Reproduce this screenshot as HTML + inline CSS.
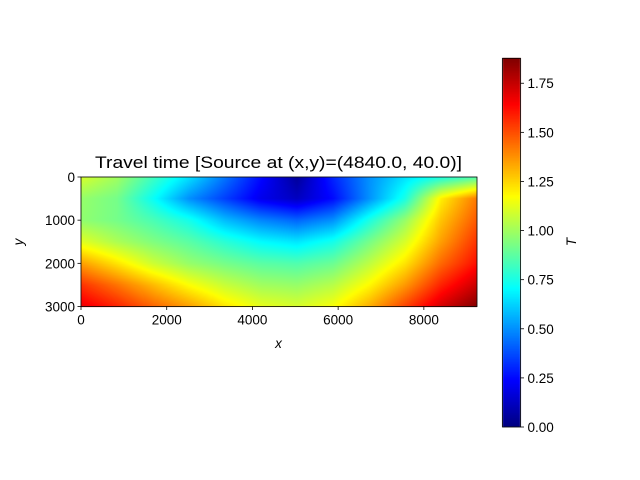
<!DOCTYPE html>
<html><head><meta charset="utf-8"><style>
html,body{margin:0;padding:0;background:#fff;}
#wrap{position:relative;width:640px;height:480px;overflow:hidden;font-family:"Liberation Sans","DejaVu Sans",sans-serif;}
canvas,svg{position:absolute;left:0;top:0;}
</style></head><body>
<div id="wrap">
<canvas id="cv" width="640" height="480"></canvas>
<svg id="sv" width="640" height="480"></svg>
</div>
<script>
// grid x positions (m), y positions (m)
const xCoords = [0,840,1680,2520,3360,4200,5040,5880,6720,7560,8400,9240];
const yCoords = [0,500,1000,1500,2000,2500,3000];
// travel time values, one row per depth
const row0 = [1.10,1.00,0.82,0.65,0.45,0.25,0.05,0.30,0.50,0.65,0.75,0.85];
const row1 = [0.98,0.92,0.72,0.50,0.35,0.20,0.12,0.25,0.50,0.75,1.20,1.42];
const row2 = [0.97,0.92,0.84,0.74,0.58,0.48,0.42,0.50,0.75,0.98,1.28,1.48];
const row3 = [1.12,1.02,0.94,0.87,0.78,0.70,0.66,0.74,0.92,1.10,1.35,1.55];
const row4 = [1.35,1.22,1.08,0.98,0.92,0.87,0.85,0.90,1.05,1.22,1.45,1.62];
const row5 = [1.55,1.43,1.30,1.17,1.07,1.00,0.98,1.04,1.18,1.36,1.58,1.74];
const row6 = [1.68,1.58,1.46,1.35,1.22,1.13,1.10,1.16,1.32,1.52,1.72,1.87];
const xTicks = [0,2000,4000,6000,8000];
const yTicks = [0,1000,2000,3000];
const cbTicks = [0,0.25,0.5,0.75,1.0,1.25,1.5,1.75];
const vmin = 0, vmax = 1.877;

const grid=[row0,row1,row2,row3,row4,row5,row6];
const PX0=81, PX1=477, PY0=177, PY1=306.5;
const XMAX=9240, YMAX=3000;
const sx=v=>PX0+v/XMAX*(PX1-PX0);
const sy=v=>PY0+v/YMAX*(PY1-PY0);
const CB={x0:502.5,x1:520.5,y0:58.3,y1:427};
const cby=v=>CB.y1-(v-vmin)/(vmax-vmin)*(CB.y1-CB.y0);

function jet(t){t=Math.max(0,Math.min(1,t));
 const f=(a)=>Math.max(0,Math.min(1,1.5-Math.abs(4*t-a)));
 return [f(3),f(2),f(1)].map(c=>Math.round(c*255));}
function seg(arr,v){for(let i=0;i<arr.length-1;i++){if(v<=arr[i+1])return [i,(v-arr[i])/(arr[i+1]-arr[i])];}return [arr.length-2,1];}
function sample(x,y){const [i,fx]=seg(xCoords,x);const [j,fy]=seg(yCoords,y);
 const a=grid[j][i],b=grid[j][i+1],c=grid[j+1][i],d=grid[j+1][i+1];
 return a*(1-fx)*(1-fy)+b*fx*(1-fy)+c*(1-fx)*fy+d*fx*fy;}

const ctx=document.getElementById('cv').getContext('2d');
for(let px=Math.floor(PX0);px<PX1;px++){for(let py=PY0;py<PY1;py++){
 const x=Math.min(XMAX,Math.max(0,(px+0.5-PX0)/(PX1-PX0)*XMAX));
 const y=Math.min(YMAX,Math.max(0,(py+0.5-PY0)/(PY1-PY0)*YMAX));
 const c=jet((sample(x,y)-vmin)/(vmax-vmin));
 ctx.fillStyle=`rgb(${c[0]},${c[1]},${c[2]})`;ctx.fillRect(px,py,1,1);}}
for(let py=Math.floor(CB.y0);py<CB.y1;py++){
 const c=jet((CB.y1-py-0.5)/(CB.y1-CB.y0));
 ctx.fillStyle=`rgb(${c[0]},${c[1]},${c[2]})`;ctx.fillRect(CB.x0,py,CB.x1-CB.x0,1);}

const NS='http://www.w3.org/2000/svg';const sv=document.getElementById('sv');
function mk(tag,at,txt){const e=document.createElementNS(NS,tag);for(const k in at)e.setAttribute(k,at[k]);if(txt!==undefined)e.textContent=txt;sv.appendChild(e);return e;}
let e;
e=mk('rect',{x:PX0,y:PY0,width:PX1-PX0,height:PY1-PY0,fill:'none',stroke:'#000','stroke-width':0.8});


e=mk('rect',{x:CB.x0,y:CB.y0,width:CB.x1-CB.x0,height:CB.y1-CB.y0,fill:'none',stroke:'#000','stroke-width':0.8});


xTicks.forEach(v=>{const x=sx(v);
 e=mk('line',{x1:x,x2:x,y1:PY1,y2:PY1+3.5,stroke:'#000','stroke-width':0.8});
 
 
 e=mk('text',{x:x,y:PY1+18,'text-anchor':'middle','font-size':'13.5px',fill:'#000'},String(v));
 
 });
yTicks.forEach(v=>{const y=sy(v);
 e=mk('line',{x1:PX0-3.5,x2:PX0,y1:y,y2:y,stroke:'#000','stroke-width':0.8});
 
 
 e=mk('text',{x:PX0-6,y:y+5,'text-anchor':'end','font-size':'13.5px',fill:'#000'},String(v));
 
 });
cbTicks.forEach(v=>{const y=cby(v);
 e=mk('line',{x1:CB.x1,x2:CB.x1+3.5,y1:y,y2:y,stroke:'#000','stroke-width':0.8});
 
 
 e=mk('text',{x:CB.x1+7,y:y+5,'font-size':'13.5px',fill:'#000'},v.toFixed(2));
 
 });
e=mk('text',{x:278.5,y:168,'text-anchor':'middle','font-size':'16.5px',fill:'#000',textLength:367,lengthAdjust:'spacingAndGlyphs'},'Travel time [Source at (x,y)=(4840.0, 40.0)]');


e=mk('text',{x:278.5,y:348,'text-anchor':'middle','font-size':'13.5px','font-style':'italic',fill:'#000'},'x');


e=mk('text',{x:0,y:0,'text-anchor':'middle','font-size':'13.5px','font-style':'italic',fill:'#000',transform:'translate(23,242) rotate(-90)'},'y');


e=mk('text',{x:0,y:0,'text-anchor':'middle','font-size':'13.5px','font-style':'italic',fill:'#000',transform:'translate(576,242) rotate(-90)'},'T');


</script>
</body></html>
